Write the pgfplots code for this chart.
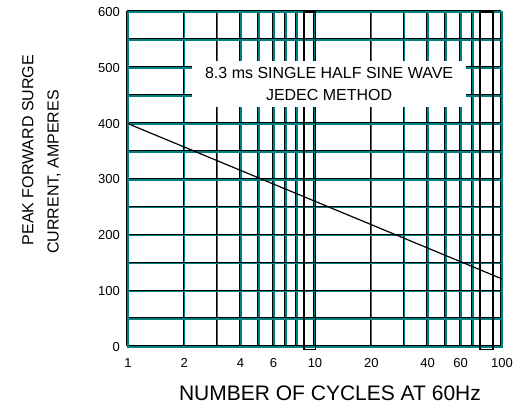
\documentclass[border=0pt]{standalone}
\usepackage{fontspec}
\setmainfont{Liberation Sans}
\usepackage{pgfplots}
\pgfplotsset{compat=1.18}
\definecolor{gridteal}{RGB}{0,128,128}
\tikzset{gridline/.style={draw=gridteal, line width=2pt,
  postaction={draw=black, line width=0.8pt, transform canvas={shift={(-1.2pt,1.2pt)}}}}}
\begin{document}
\begin{tikzpicture}[x=1pt,y=1pt]
\begin{axis}[
  at={(0,0)}, anchor=south west,
  scale only axis, width=374pt, height=335pt,
  xmode=log, xmin=1, xmax=100, ymin=0, ymax=600,
  clip=false,
  xtick={1,2,4,6,10,20,40,60,100},
  xticklabels={1,2,4,6,10,20,40,60,100},
  minor xtick={3,5,7,8,30,50,70},
  ytick={0,100,...,600},
  minor ytick={50,150,...,550},
  grid=both,
  major grid style={gridline},
  minor grid style={gridline},
  axis line style={draw=gridteal, line width=2.4pt},
  major tick length=0pt, minor tick length=0pt,
  /pgf/number format/assume math mode=true,
  ticklabel style={font=\fontsize{13}{13}\selectfont},
  xticklabel style={anchor=center, yshift=-16pt},
  yticklabel style={anchor=east, inner sep=0pt, xshift=-8pt},
  xlabel={NUMBER OF CYCLES AT 60Hz},
  xlabel style={font=\fontsize{21}{21}\selectfont, at={(axis description cs:0.54,-0.1373)}, anchor=center},
  ylabel={PEAK FORWARD SURGE},
  ylabel style={font=\fontsize{16}{16}\selectfont, at={(axis description cs:-0.2674,0.588)}, anchor=center},
]
% black frames left in the original at 9-10 and 80-90 cycles
\draw[black, line width=1.3pt] (axis cs:8.75,-5) rectangle (axis cs:10.05,600);
\draw[black, line width=1.3pt] (axis cs:76.3,-5) rectangle (axis cs:89.5,600);

\addplot[black, line width=1.2pt] coordinates {(1,400) (100,122)};

\fill[white] (axis cs:2.2,430) rectangle (axis cs:64.2,512);
\node[align=center, font=\fontsize{16}{22}\selectfont] at (axis cs:11.9,471)
  {8.3 ms SINGLE HALF SINE WAVE\\JEDEC METHOD};

\node[rotate=90, font=\fontsize{16}{16}\selectfont] at (axis description cs:-0.1979,0.5224)
  {CURRENT, AMPERES};
\end{axis}
\pgfresetboundingbox
\path[use as bounding box] (-128,-60) rectangle (395,347);
\end{tikzpicture}
\end{document}
